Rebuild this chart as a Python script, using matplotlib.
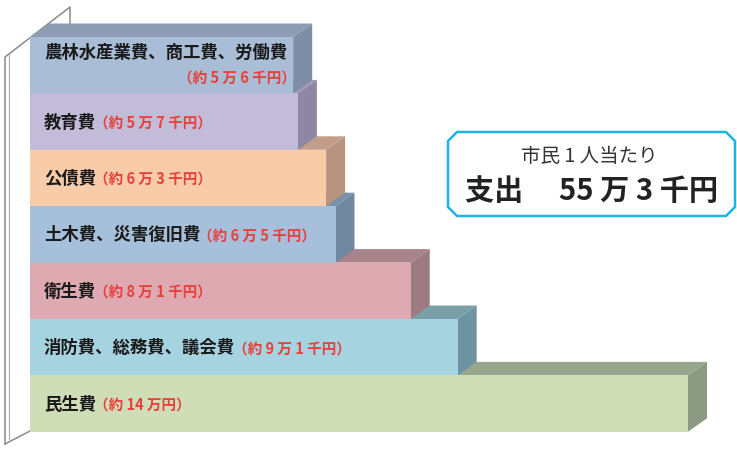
"""
市民1人当たり支出 - stepped 3D-style horizontal bars
"""

import matplotlib
matplotlib.use("Agg")
import matplotlib.pyplot as plt
from matplotlib.patches import Polygon

plt.rcParams['font.family'] = ['Noto Sans CJK JP', 'DejaVu Sans']

# -----------------------------
# Data (万円 per citizen)
# -----------------------------

categories = [
    "農林水産業費、商工費、労働費",
    "教育費",
    "公債費",
    "土木費、災害復旧費",
    "衛生費",
    "消防費、総務費、議会費",
    "民生費",
]
amounts = [5.6, 5.7, 6.3, 6.5, 8.1, 9.1, 14.0]
amount_labels = [
    "（約 5 万 6 千円）",
    "（約 5 万 7 千円）",
    "（約 6 万 3 千円）",
    "（約 6 万 5 千円）",
    "（約 8 万 1 千円）",
    "（約 9 万 1 千円）",
    "（約 14 万円）",
]
total_caption = "市民 1 人当たり"
total_text = "支出　 55 万 3 千円"

# front / top / side colours per bar
front_colors = ["#a9bdd6", "#c3bcd9", "#f8cba9", "#a6bfda", "#dfa9b1", "#a6d3e0", "#d0deb8"]
top_colors = ["#8e9db3", "#9e97b5", "#c29e8a", "#7890a8", "#a8838b", "#7a9fa9", "#98a68e"]
side_colors = ["#7e8ea6", "#8e87a4", "#b8937f", "#6f879f", "#9e7a82", "#6c95a1", "#8c9a83"]

# -----------------------------
# Layout
# -----------------------------

W, H, DPI = 737, 452, 100
PX_PER_UNIT = 47.0      # pixels per 万円
ROW_PX = 56.4           # pixels per bar row
X0_PX, Y0_PX = 30, 38   # left edge / top of first bar
DEPTH_X = 19 / PX_PER_UNIT
DEPTH_Y = -13.5 / ROW_PX

fig = plt.figure(figsize=(W / DPI, H / DPI), dpi=DPI)
ax = fig.add_axes([0, 0, 1, 1])
ax.set_xlim(-X0_PX / PX_PER_UNIT, (W - X0_PX) / PX_PER_UNIT)
ax.set_ylim((H - Y0_PX) / ROW_PX, -Y0_PX / ROW_PX)
ax.axis("off")

# back wall outline (decorative, axes fraction)
def frac(px, py):
    return (px / W, 1 - py / H)

wall = [frac(5, 445), frac(5, 58), frac(70, 8), frac(70, 25)]
ax.plot(*zip(*wall), transform=ax.transAxes, color="#8a8a8a", lw=1.1, zorder=1)
ax.plot(*zip(frac(9, 440), frac(9, 56)), transform=ax.transAxes, color="#b0b0b0", lw=0.9, zorder=1)
ax.plot(*zip(frac(5, 445), frac(30, 432)), transform=ax.transAxes, color="#8a8a8a", lw=1.1, zorder=1)

# bars
for i, (value, fc, tc, sc) in enumerate(zip(amounts, front_colors, top_colors, side_colors)):
    top, bottom = i, i + 1
    z = 100 - 10 * i
    top_face = Polygon([(0, top), (DEPTH_X, top + DEPTH_Y),
                        (value + DEPTH_X, top + DEPTH_Y), (value, top)],
                       closed=True, facecolor=tc, edgecolor="none", zorder=z)
    side_face = Polygon([(value, top), (value + DEPTH_X, top + DEPTH_Y),
                         (value + DEPTH_X, bottom + DEPTH_Y), (value, bottom)],
                        closed=True, facecolor=sc, edgecolor="none", zorder=z)
    ax.add_patch(top_face)
    ax.add_patch(side_face)
    ax.barh(i + 0.5, value, height=1.0, left=0, color=fc, edgecolor="none", zorder=z + 1)

# labels
label_x = 14 / PX_PER_UNIT
for i, (name, amt) in enumerate(zip(categories, amount_labels)):
    if i == 0:
        txt = ax.text(label_x, i + 0.27, name, fontsize=12.5, fontweight="bold",
                      color="#1a1a1a", va="center", ha="left", zorder=200)
        ax.annotate(amt, xy=(1, 0), xycoords=txt, xytext=(6, -5),
                    textcoords="offset points", ha="right", va="top",
                    fontsize=10.5, fontweight="bold", color="#e8403a", zorder=200)
    else:
        txt = ax.text(label_x, i + 0.5, name, fontsize=12.5, fontweight="bold",
                      color="#1a1a1a", va="center", ha="left", zorder=200)
        ax.annotate(amt, xy=(1, 0.5), xycoords=txt, xytext=(-1.5, 0),
                    textcoords="offset points", ha="left", va="center",
                    fontsize=10.5, fontweight="bold", color="#e8403a", zorder=200)

# summary box with chamfered corners
x1, x2, y1, y2, c = 448, 735, 133, 217, 9
box = Polygon([frac(x1 + c, y1), frac(x2 - c, y1), frac(x2, y1 + c), frac(x2, y2 - c),
               frac(x2 - c, y2), frac(x1 + c, y2), frac(x1, y2 - c), frac(x1, y1 + c)],
              closed=True, transform=ax.transAxes, facecolor="white",
              edgecolor="#1fb2e6", lw=1.8, zorder=300)
ax.add_patch(box)
cx = (x1 + x2) / 2
ax.text(*frac(cx - 2, 157), total_caption, transform=ax.transAxes, fontsize=14,
        color="#333333", ha="center", va="center", zorder=301)
ax.text(*frac(cx, 191), total_text, transform=ax.transAxes, fontsize=21,
        fontweight="bold", color="#222222", ha="center", va="center", zorder=301)

fig.savefig("out.png", dpi=DPI, facecolor="white")
plt.close(fig)
